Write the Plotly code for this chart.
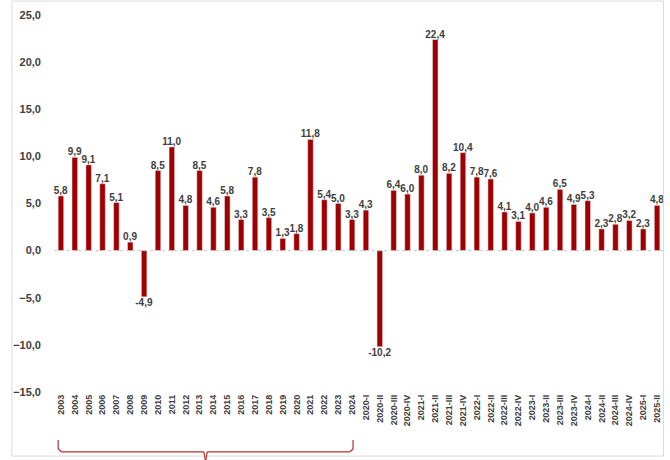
import plotly.graph_objects as go

years = [str(y) for y in range(2003, 2025)]
year_vals = [5.8, 9.9, 9.1, 7.1, 5.1, 0.9, -4.9, 8.5, 11.0, 4.8, 8.5, 4.6, 5.8, 3.3,
             7.8, 3.5, 1.3, 1.8, 11.8, 5.4, 5.0, 3.3]
quarters = ["2020-I", "2020-II", "2020-III", "2020-IV", "2021-I", "2021-II", "2021-III",
            "2021-IV", "2022-I", "2022-II", "2022-III", "2022-IV", "2023-I", "2023-II",
            "2023-III", "2023-IV", "2024-I", "2024-II", "2024-III", "2024-IV", "2025-I", "2025-II"]
quarter_vals = [4.3, -10.2, 6.4, 6.0, 8.0, 22.4, 8.2, 10.4, 7.8, 7.6, 4.1, 3.1, 4.0, 4.6,
                6.5, 4.9, 5.3, 2.3, 2.8, 3.2, 2.3, 4.8]
y_ticks = [-15, -10, -5, 0, 5, 10, 15, 20, 25]

cats = years + quarters
vals = year_vals + quarter_vals

fig = go.Figure(go.Bar(
    x=list(range(len(cats))), y=vals,
    marker_color="#A00000", width=0.4,
    text=vals, texttemplate="%{y:.1f}", textposition="outside",
    constraintext="none",
    textfont=dict(family="Liberation Sans", size=10, color="#404040", weight="bold"),
    cliponaxis=False,
))

lc = dict(color="#B03030", width=1.2)
n_years = len(years)
xl, xr = -0.2, n_years - 1 + 0.07
xm = (xl + xr) / 2
ytop, ybot, ynotch = -0.127, -0.159, -0.185
shapes = [
    dict(type="rect", xref="paper", yref="paper", x0=-0.069, x1=0.999, y0=-0.17, y1=1.037,
         line=dict(color="#D9D9D9", width=1)),
    dict(type="line", xref="paper", yref="y", x0=0, x1=1, y0=0, y1=0,
         line=dict(color="#C8C8C8", width=1, dash="dot")),
    dict(type="line", xref="x", yref="paper", x0=xl, x1=xl, y0=ytop, y1=ybot + 0.008, line=lc),
    dict(type="line", xref="x", yref="paper", x0=xl, x1=xl + 0.25, y0=ybot + 0.008, y1=ybot, line=lc),
    dict(type="line", xref="x", yref="paper", x0=xl + 0.25, x1=xm - 0.12, y0=ybot, y1=ybot, line=lc),
    dict(type="line", xref="x", yref="paper", x0=xm - 0.12, x1=xm, y0=ybot, y1=ynotch, line=lc),
    dict(type="line", xref="x", yref="paper", x0=xm, x1=xm + 0.12, y0=ynotch, y1=ybot, line=lc),
    dict(type="line", xref="x", yref="paper", x0=xm + 0.12, x1=xr - 0.25, y0=ybot, y1=ybot, line=lc),
    dict(type="line", xref="x", yref="paper", x0=xr - 0.25, x1=xr, y0=ybot, y1=ybot + 0.008, line=lc),
    dict(type="line", xref="x", yref="paper", x0=xr, x1=xr, y0=ybot + 0.008, y1=ytop, line=lc),
]

fig.update_layout(
    width=670, height=460,
    margin=dict(l=54, r=6, t=15, b=68, autoexpand=False),
    paper_bgcolor="white", plot_bgcolor="white",
    separators=",.",
    showlegend=False,
    shapes=shapes,
    xaxis=dict(
        tickmode="array", tickvals=list(range(len(cats))), ticktext=cats,
        tickangle=-90, range=[-0.5, len(cats) - 0.5], automargin=False,
        tickfont=dict(family="Liberation Sans", size=9, color="#404040", weight="bold"),
        showgrid=False, showline=False, zeroline=False, ticks="",
    ),
    yaxis=dict(
        range=[-15, 25], tickvals=y_ticks, tickformat=".1f", automargin=False,
        tickfont=dict(family="Liberation Sans", size=11, color="#404040", weight="bold"),
        showgrid=False, zeroline=False, showline=False, ticks="", ticklabelstandoff=12,
    ),
    font=dict(family="Liberation Sans"),
)

fig.write_html("out.html", config={"displayModeBar": False},
               post_script="document.body.style.margin='0';")
